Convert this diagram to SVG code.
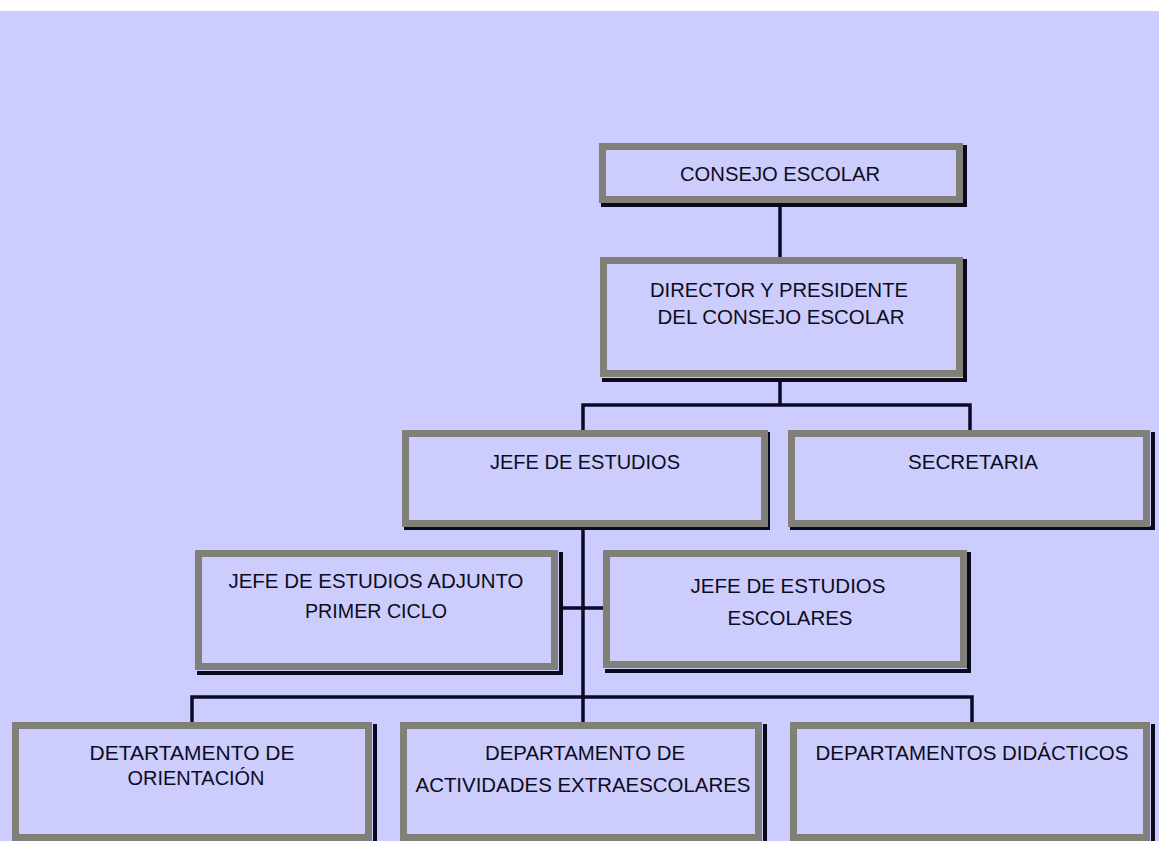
<svg xmlns="http://www.w3.org/2000/svg" width="1159" height="841" viewBox="0 0 1159 841">
<defs>
<style>
.bg{fill:#ccccfe}
.box{fill:#cdcdfd;stroke:#808079;stroke-width:7}
.sh{fill:none;stroke:#0a0a1e;stroke-width:4}
.ln{fill:none;stroke:#0a0a28;stroke-width:3.5}
text{font-family:"Liberation Sans",Arial,sans-serif;font-size:20px;fill:#0c0c20;text-anchor:middle}
</style>
</defs>
<rect x="0" y="0" width="1159" height="841" fill="#ffffff"/>
<rect class="bg" x="0" y="11" width="1159" height="830"/>
<g id="connectors">
<path class="ln" d="M780,207 V257"/>
<path class="ln" d="M780,382 V405"/>
<path class="ln" d="M583,430 V405 H970 V430"/>
<path class="ln" d="M583,527 V722"/>
<path class="ln" d="M561,608 H604"/>
<path class="ln" d="M192,722 V697 H972 V722"/>
</g>
<g id="consejo">
<path class="sh" d="M965,145 V205 H601"/>
<rect class="box" x="602.5" y="146.5" width="357" height="53"/>
<text x="780" y="181" textLength="200" lengthAdjust="spacingAndGlyphs">CONSEJO ESCOLAR</text>
</g>
<g id="director">
<path class="sh" d="M965,259 V380 H602"/>
<rect class="box" x="603.5" y="260.5" width="356" height="113"/>
<text x="779" y="297" textLength="258" lengthAdjust="spacingAndGlyphs">DIRECTOR Y PRESIDENTE</text>
<text x="781" y="324" textLength="247" lengthAdjust="spacingAndGlyphs">DEL CONSEJO ESCOLAR</text>
</g>
<g id="jefe">
<path class="sh" d="M768,432 V528 H404"/>
<rect class="box" x="405.5" y="433.5" width="359" height="90"/>
<text x="585" y="469" textLength="190" lengthAdjust="spacingAndGlyphs">JEFE DE ESTUDIOS</text>
</g>
<g id="secretaria">
<path class="sh" d="M1153,432 V528 H790"/>
<rect class="box" x="791.5" y="433.5" width="355" height="90"/>
<text x="973" y="469" textLength="130" lengthAdjust="spacingAndGlyphs">SECRETARIA</text>
</g>
<g id="adjunto">
<path class="sh" d="M561,552 V673 H197"/>
<rect class="box" x="198.5" y="553.5" width="356" height="113"/>
<text x="376" y="588" textLength="295" lengthAdjust="spacingAndGlyphs">JEFE DE ESTUDIOS ADJUNTO</text>
<text x="376" y="618" textLength="142" lengthAdjust="spacingAndGlyphs">PRIMER CICLO</text>
</g>
<g id="escolares">
<path class="sh" d="M969,552 V671 H605"/>
<rect class="box" x="606.5" y="553.5" width="357" height="111"/>
<text x="788" y="593" textLength="195" lengthAdjust="spacingAndGlyphs">JEFE DE ESTUDIOS</text>
<text x="790" y="625" textLength="125" lengthAdjust="spacingAndGlyphs">ESCOLARES</text>
</g>
<g id="orientacion">
<path class="sh" d="M375,724 V845"/>
<rect class="box" x="15.5" y="725.5" width="353" height="112"/>
<text x="192" y="760" textLength="205" lengthAdjust="spacingAndGlyphs">DETARTAMENTO DE</text>
<text x="196" y="785" textLength="137" lengthAdjust="spacingAndGlyphs">ORIENTACIÓN</text>
</g>
<g id="extraescolares">
<path class="sh" d="M765,724 V845"/>
<rect class="box" x="403.5" y="725.5" width="355" height="112"/>
<text x="585" y="760" textLength="200" lengthAdjust="spacingAndGlyphs">DEPARTAMENTO DE</text>
<text x="583" y="792" textLength="335" lengthAdjust="spacingAndGlyphs">ACTIVIDADES EXTRAESCOLARES</text>
</g>
<g id="didacticos">
<path class="sh" d="M1153,724 V845"/>
<rect class="box" x="793.5" y="725.5" width="353" height="112"/>
<text x="972" y="760" textLength="313" lengthAdjust="spacingAndGlyphs">DEPARTAMENTOS DIDÁCTICOS</text>
</g>
</svg>
